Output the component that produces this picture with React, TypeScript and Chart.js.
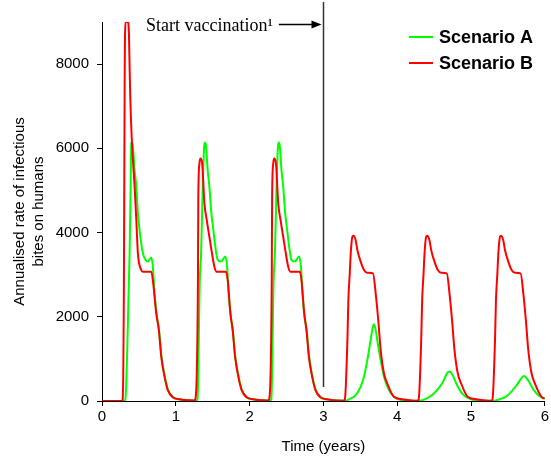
import React, { useEffect, useRef } from "react";
import { Chart, registerables } from "chart.js";

Chart.register(...registerables);

// ---- data ----
const xTicks = [0, 1, 2, 3, 4, 5, 6];
const yTicks = [0, 2000, 4000, 6000, 8000];
const seriesLabels = ["Scenario A", "Scenario B"];
const seriesColors = ["#00ff00", "#ff0000"];
const vaccinationStart = 3;
const annotationText = "Start vaccination\u00B9";
const xTitle = "Time (years)";
const yTitle = ["Annualised rate of infectious", "bites on humans"];

// Scenario A (green)
const timesA = [
  0, 0.3, 0.316, 0.365, 0.374, 0.388, 0.397, 0.405, 0.419, 0.442, 0.465, 0.486, 0.509, 0.532, 0.554, 0.59, 0.622, 0.668, 0.689, 0.712, 0.745, 0.775, 0.808, 0.852, 0.898, 0.965, 1.06, 1.2,
  1.28, 1.295, 1.325, 1.343, 1.365, 1.384, 1.397, 1.41, 1.432, 1.455, 1.482, 1.509, 1.536, 1.567, 1.613, 1.672, 1.695, 1.716, 1.745, 1.775, 1.808, 1.852, 1.898, 1.965, 2.06, 2.2,
  2.28, 2.295, 2.325, 2.343, 2.365, 2.384, 2.397, 2.41, 2.432, 2.455, 2.482, 2.509, 2.536, 2.567, 2.613, 2.672, 2.695, 2.716, 2.745, 2.775, 2.808, 2.852, 2.898, 2.965, 3.06, 3.2,
  3.3, 3.347, 3.437, 3.505, 3.55, 3.595, 3.64, 3.67, 3.685, 3.708, 3.743, 3.776, 3.82, 3.888, 3.955, 4.05, 4.2,
  4.3, 4.4, 4.496, 4.61, 4.676, 4.712, 4.75, 4.81, 4.878, 4.97, 5.1,
  5.3, 5.4, 5.487, 5.62, 5.69, 5.72, 5.77, 5.85, 5.94, 6,
];
const valuesA = [
  0, 0, 30, 2870, 3510, 5090, 6120, 6150, 6040, 5480, 5090, 4460, 4060, 3740, 3510, 3350, 3310, 3410, 3190, 2560, 2000, 1650, 1030, 570, 250, 85, 35, 15,
  10, 60, 2870, 3510, 5090, 6040, 6140, 6040, 5480, 5090, 4460, 4060, 3660, 3350, 3310, 3430, 3190, 2560, 2000, 1650, 1030, 570, 250, 85, 35, 15,
  10, 60, 2870, 3510, 5090, 6040, 6140, 6040, 5480, 5090, 4460, 4060, 3660, 3350, 3310, 3430, 3190, 2560, 2000, 1650, 1030, 570, 250, 85, 35, 10,
  10, 40, 140, 340, 580, 970, 1450, 1760, 1820, 1690, 1290, 970, 580, 260, 100, 25, 5,
  5, 60, 180, 420, 660, 700, 620, 380, 180, 60, 10,
  5, 50, 120, 380, 560, 595, 500, 260, 100, 50,
];

// Scenario B (red)
const timesB = [
  0, 0.26, 0.28, 0.297, 0.307, 0.318, 0.35, 0.365, 0.374, 0.384, 0.4, 0.419, 0.442, 0.465, 0.486, 0.532, 0.554, 0.668, 0.689, 0.735, 0.77, 0.803, 0.847, 0.892, 0.959, 1.05, 1.2,
  1.25, 1.27, 1.3, 1.305, 1.32, 1.334, 1.357, 1.388, 1.419, 1.455, 1.49, 1.523, 1.554, 1.681, 1.703, 1.74, 1.77, 1.803, 1.847, 1.892, 1.959, 2.05, 2.2,
  2.25, 2.27, 2.3, 2.305, 2.32, 2.334, 2.357, 2.388, 2.419, 2.455, 2.49, 2.523, 2.554, 2.681, 2.703, 2.74, 2.77, 2.803, 2.847, 2.892, 2.959, 3.05, 3.2,
  3.28, 3.295, 3.325, 3.338, 3.357, 3.37, 3.392, 3.405, 3.437, 3.46, 3.505, 3.55, 3.595, 3.672, 3.708, 3.743, 3.776, 3.82, 3.865, 3.955, 4.07, 4.2,
  4.28, 4.295, 4.325, 4.338, 4.357, 4.37, 4.392, 4.405, 4.437, 4.46, 4.505, 4.55, 4.595, 4.672, 4.708, 4.743, 4.776, 4.82, 4.865, 4.955, 5.07, 5.2,
  5.28, 5.295, 5.325, 5.338, 5.357, 5.37, 5.392, 5.405, 5.437, 5.46, 5.505, 5.55, 5.595, 5.672, 5.708, 5.743, 5.776, 5.82, 5.865, 5.955, 6,
];
const valuesB = [
  0, 0, 30, 2870, 7600, 9000, 9000, 8730, 7940, 7150, 6360, 5720, 5090, 4300, 3510, 3110, 3070, 3070, 2870, 2080, 1690, 1050, 580, 260, 90, 40, 15,
  10, 100, 2870, 4850, 5640, 5760, 5640, 4690, 4300, 3900, 3510, 3190, 3070, 3070, 2870, 2080, 1690, 1050, 580, 260, 90, 40, 15,
  10, 100, 2870, 4850, 5640, 5760, 5640, 4690, 4300, 3900, 3510, 3190, 3070, 3070, 2870, 2080, 1690, 1050, 580, 260, 90, 40, 10,
  5, 100, 1450, 2400, 3030, 3500, 3900, 3925, 3820, 3585, 3310, 3110, 3045, 3030, 2560, 1920, 1210, 660, 420, 100, 40, 10,
  5, 100, 1450, 2400, 3030, 3500, 3900, 3925, 3820, 3585, 3310, 3110, 3045, 3030, 2560, 1920, 1210, 660, 420, 100, 40, 10,
  5, 100, 1450, 2400, 3030, 3500, 3900, 3925, 3820, 3585, 3310, 3110, 3045, 3030, 2560, 1920, 1210, 660, 420, 100, 60,
];

const toPoints = (t: number[], v: number[]) => t.map((x, i) => ({ x, y: v[i] }));

const overlayPlugin = {
  id: "overlay",
  afterDatasetsDraw(chart: any) {
    const { ctx, scales } = chart;
    const xs = scales.x;
    const ys = scales.y;
    const vx = Math.round(xs.getPixelForValue(vaccinationStart)) + 0.5;
    ctx.save();
    // vaccination line
    ctx.strokeStyle = "#333";
    ctx.lineWidth = 1.5;
    ctx.beginPath();
    ctx.moveTo(vx, 2);
    ctx.lineTo(vx, ys.getPixelForValue(330));
    ctx.stroke();
    // annotation text
    ctx.fillStyle = "#000";
    ctx.font = '18px "Liberation Serif"';
    ctx.textAlign = "left";
    ctx.textBaseline = "alphabetic";
    const tx = 146;
    ctx.fillText(annotationText, tx, 31);
    const tw = ctx.measureText(annotationText).width;
    // arrow
    const ay = 24.5;
    const ax0 = tx + tw + 6;
    const ax1 = vx - 2;
    ctx.strokeStyle = "#000";
    ctx.lineWidth = 1.3;
    ctx.beginPath();
    ctx.moveTo(ax0, ay);
    ctx.lineTo(ax1 - 8, ay);
    ctx.stroke();
    ctx.beginPath();
    ctx.moveTo(ax1, ay);
    ctx.lineTo(ax1 - 10, ay - 4);
    ctx.lineTo(ax1 - 10, ay + 4);
    ctx.closePath();
    ctx.fill();
    // legend
    const lx0 = 409;
    const lx1 = 433;
    const rows = [37, 63];
    ctx.font = 'bold 18px "Liberation Sans"';
    ctx.textBaseline = "middle";
    seriesLabels.forEach((lab, i) => {
      ctx.strokeStyle = seriesColors[i];
      ctx.lineWidth = 2;
      ctx.beginPath();
      ctx.moveTo(lx0, rows[i]);
      ctx.lineTo(lx1, rows[i]);
      ctx.stroke();
      ctx.fillStyle = "#000";
      ctx.fillText(lab, 439, rows[i] + 1);
    });
    ctx.restore();
  },
};

export default function App() {
  const ref = useRef<HTMLCanvasElement | null>(null);
  useEffect(() => {
    if (!ref.current) return;
    const chart = new Chart(ref.current, {
      type: "line",
      data: {
        datasets: [
          {
            label: seriesLabels[0],
            data: toPoints(timesA, valuesA),
            borderColor: seriesColors[0],
            borderWidth: 2,
            pointRadius: 0,
            cubicInterpolationMode: "monotone",
            order: 1,
          },
          {
            label: seriesLabels[1],
            data: toPoints(timesB, valuesB),
            borderColor: seriesColors[1],
            borderWidth: 2,
            pointRadius: 0,
            cubicInterpolationMode: "monotone",
            order: 0,
          },
        ],
      },
      options: {
        responsive: false,
        animation: false,
        layout: { padding: { top: 22, right: 5, left: 0, bottom: 0 } },
        plugins: { legend: { display: false }, tooltip: { enabled: false } },
        scales: {
          x: {
            type: "linear",
            min: 0,
            max: 6,
            afterBuildTicks: (s: any) => {
              s.ticks = xTicks.map((v) => ({ value: v }));
            },
            afterFit: (s: any) => {
              s.height = 60;
            },
            grid: { drawOnChartArea: false, drawTicks: true, tickLength: 5, color: "#000" },
            border: { display: true, color: "#000", width: 1 },
            ticks: {
              color: "#000",
              padding: 2,
              maxRotation: 0,
              callback: (v: any) => String(v),
              font: { family: "Liberation Sans", size: 15 },
            },
            title: {
              display: true,
              text: xTitle,
              color: "#000",
              font: { family: "Liberation Sans", size: 15, lineHeight: 1.2 },
              padding: { top: 0, bottom: 5 },
            },
          },
          y: {
            type: "linear",
            min: 0,
            max: 9000,
            afterBuildTicks: (s: any) => {
              s.ticks = yTicks.map((v) => ({ value: v }));
            },
            afterFit: (s: any) => {
              s.width = 102;
            },
            grid: { drawOnChartArea: false, drawTicks: true, tickLength: 5, color: "#000" },
            border: { display: true, color: "#000", width: 1 },
            ticks: {
              color: "#000",
              padding: 8,
              callback: (v: any) => String(v),
              font: { family: "Liberation Sans", size: 15 },
            },
            title: {
              display: true,
              text: yTitle,
              color: "#000",
              font: { family: "Liberation Sans", size: 15, lineHeight: 1.27 },
              padding: { top: 10, bottom: 0 },
            },
          },
        },
      },
      plugins: [overlayPlugin],
    } as any);
    return () => chart.destroy();
  }, []);
  return (
    <div style={{ position: "absolute", left: 0, top: 0, width: 551, height: 461, background: "#fff" }}>
      <canvas ref={ref} width={551} height={461} style={{ display: "block" }} />
    </div>
  );
}
